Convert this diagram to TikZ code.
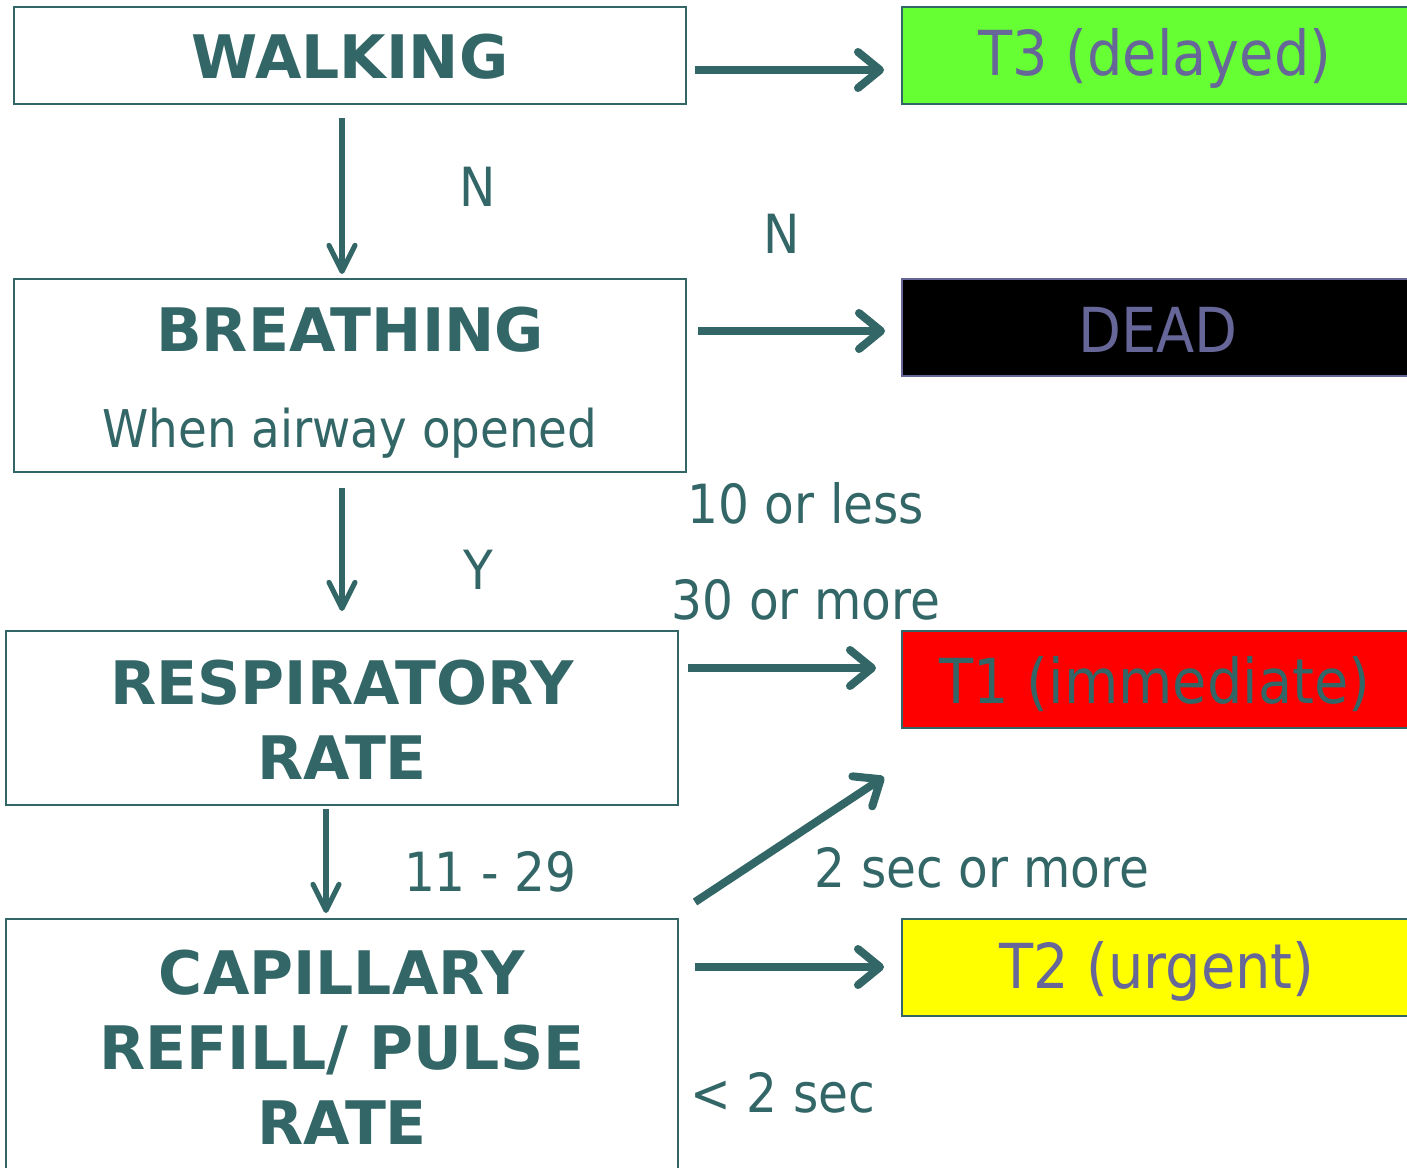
\documentclass[tikz,border=0pt]{standalone}
\usepackage{fontspec}
\setmainfont{DejaVu Sans Condensed}
\newfontfamily\titlefont{DejaVu Sans}
\usetikzlibrary{arrows.meta,calc}
\definecolor{teal2}{HTML}{336666}
\definecolor{purp}{HTML}{666699}
\definecolor{lgreen}{HTML}{66FF33}
\definecolor{yel}{HTML}{FFFF00}
\begin{document}
\begin{tikzpicture}[x=0.5pt,y=-0.5pt,
  box/.style={draw=teal2,line width=1pt,minimum width=#1,inner sep=0pt},
  tbox/.style={draw=teal2,line width=1pt,minimum width=255pt,minimum height=48.5pt,inner sep=0pt},
  ttl/.style={text=teal2,font=\titlefont\bfseries\fontsize{30}{37.5}\selectfont,align=center,inner sep=0pt},
  lbl/.style={text=teal2,font=\fontsize{27}{32}\selectfont,inner sep=0pt},
  res/.style={font=\fontsize{31}{36}\selectfont,inner sep=0pt},
  harr/.style={draw=teal2,line width=4pt,-{Straight Barb[length=11pt,width=18pt,line cap=round,line join=round]}},
  varr/.style={draw=teal2,line width=2.6pt,-{Straight Barb[length=13pt,width=13pt,line cap=round,line join=round]}}
]
\clip (0,0) rectangle (1407,1167);
\fill[white] (0,0) rectangle (1407,1167);
% left boxes
\node[box=336pt,minimum height=48.5pt] (walk) at (350,55.5) {};
\node[box=336pt,minimum height=96.5pt] (breath) at (350,375.5) {};
\node[box=336pt,minimum height=87pt] (resp) at (342,718) {};
\node[box=336pt,minimum height=128.5pt] (cap) at (342,1047.5) {};
% right boxes
\node[tbox,fill=lgreen] (t3) at (1157,55.5) {};
\node[tbox,fill=black,draw=purp] (dead) at (1157,327.5) {};
\node[tbox,fill=red] (t1) at (1157,679.5) {};
\node[tbox,fill=yel] (t2) at (1157,967.5) {};
% texts
\node[ttl] (walkt) at (350,57) {WALKING};
\node[ttl] (breatht) at (350,330) {BREATHING};
\node[lbl,font=\fontsize{26}{32}\selectfont] (airway) at (350,433) {When airway opened};
\node[ttl] (respt) at (342,720) {RESPIRATORY\\RATE};
\node[ttl] (capt) at (342,1047) {CAPILLARY\\REFILL/ PULSE\\RATE};
\node[res,text=purp] (t3t) at (1155,58) {T3 (delayed)};
\node[res,text=purp] (deadt) at (1158,330) {DEAD};
\node[res,text=teal2] (t1t) at (1155,684) {T1 (immediate)};
\node[res,text=purp] (t2t) at (1157,971) {T2 (urgent)};
% labels
\node[lbl] (n1) at (478,187) {N};
\node[lbl] (n2) at (782,234) {N};
\node[lbl] (y1) at (478,570) {Y};
\node[lbl] (l10) at (806,503) {10 or less};
\node[lbl] (l30) at (806,600) {30 or more};
\node[lbl] (l11) at (490,872) {11 - 29};
\node[lbl] (l2m) at (982,868) {2 sec or more};
\node[lbl] (l2l) at (783,1093) {< 2 sec};
% connectors
\draw[varr,shorten <=6.5pt,shorten >=2pt] (walk.south -| 342,0) -- (breath.north -| 342,0);
\draw[varr,shorten <=7.5pt,shorten >=9.5pt] (breath.south -| 342,0) -- (resp.north -| 342,0);
\draw[varr,shorten <=1.5pt,shorten >=2.5pt] (resp.south -| 326,0) -- (cap.north -| 326,0);
\draw[harr,shorten <=4pt,shorten >=8.5pt] (walk.east |- 0,70) -- (t3.west |- 0,70);
\draw[harr,shorten <=5.5pt,shorten >=8pt] (breath.east |- 0,331) -- (dead.west |- 0,331);
\draw[harr,shorten <=4.5pt,shorten >=12.5pt] (resp.east |- 0,668) -- (t1.west |- 0,668);
\draw[harr,shorten <=8pt,shorten >=8.5pt] (cap.east |- 0,967) -- (t2.west |- 0,967);
\draw[harr] ($(cap.north east)+(16,-16)$) -- ($(t1.south west)+(-17,48)$);
\end{tikzpicture}
\end{document}
